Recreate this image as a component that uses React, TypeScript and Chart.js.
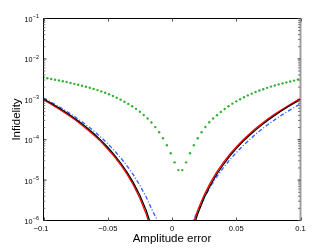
import { useEffect, useRef } from "react";
import { Chart, registerables } from "chart.js";

Chart.register(...registerables);

// x grid for the solid / dash-dot curves
const lineX = [
  -0.1, -0.095, -0.09, -0.085, -0.08, -0.075, -0.07, -0.065, -0.06, -0.055, -0.05,
  -0.045, -0.04, -0.035, -0.03, -0.025, -0.02, -0.015, -0.01, -0.005, 0,
  0.005, 0.01, 0.015, 0.02, 0.025, 0.03, 0.035, 0.04, 0.045, 0.05,
  0.055, 0.06, 0.065, 0.07, 0.075, 0.08, 0.085, 0.09, 0.095, 0.1,
];

const blackVals = [
  1.02e-3, 8.32e-4, 6.71e-4, 5.34e-4, 4.2e-4, 3.25e-4, 2.47e-4, 1.84e-4, 1.34e-4, 9.49e-5, 6.5e-5,
  4.29e-5, 2.69e-5, 1.59e-5, 8.65e-6, 4.23e-6, 1.77e-6, 5.77e-7, 1.22e-7, 9.2e-9, 1e-11,
  4.1e-9, 8.1e-8, 4.42e-7, 1.45e-6, 3.6e-6, 7.57e-6, 1.42e-5, 2.43e-5, 3.92e-5, 6.0e-5,
  8.82e-5, 1.25e-4, 1.73e-4, 2.33e-4, 3.08e-4, 3.99e-4, 5.1e-4, 6.42e-4, 7.97e-4, 9.8e-4,
];

const redVals = [
  9.6e-4, 7.85e-4, 6.3e-4, 5.0e-4, 3.92e-4, 3.02e-4, 2.29e-4, 1.7e-4, 1.23e-4, 8.7e-5, 5.9e-5,
  3.86e-5, 2.4e-5, 1.4e-5, 7.5e-6, 3.56e-6, 1.43e-6, 4.4e-7, 8.1e-8, 4.1e-9, 1e-11,
  9.2e-9, 1.24e-7, 5.9e-7, 1.8e-6, 4.3e-6, 8.8e-6, 1.62e-5, 2.74e-5, 4.37e-5, 6.62e-5,
  9.67e-5, 1.37e-4, 1.88e-4, 2.52e-4, 3.32e-4, 4.29e-4, 5.45e-4, 6.85e-4, 8.5e-4, 1.04e-3,
];

const blueVals = [
  1.08e-3, 8.86e-4, 7.2e-4, 5.79e-4, 4.59e-4, 3.6e-4, 2.77e-4, 2.1e-4, 1.56e-4, 1.13e-4, 7.96e-5,
  5.45e-5, 3.58e-5, 2.25e-5, 1.34e-5, 7.41e-6, 3.76e-6, 1.68e-6, 8.5e-7, 2.0e-7, 1e-8,
  1.5e-8, 1.7e-7, 8.0e-7, 1.7e-6, 3.6e-6, 6.95e-6, 1.23e-5, 2.03e-5, 3.2e-5, 4.8e-5,
  6.95e-5, 9.83e-5, 1.36e-4, 1.83e-4, 2.41e-4, 3.13e-4, 4.0e-4, 5.03e-4, 6.26e-4, 7.71e-4,
];

// x grid of the dotted (marker) curve
const greenX = [
  -0.1, -0.097, -0.094, -0.091, -0.088, -0.085, -0.082, -0.079, -0.076, -0.073,
  -0.07, -0.067, -0.064, -0.061, -0.058, -0.055, -0.052, -0.049, -0.046, -0.043,
  -0.04, -0.037, -0.034, -0.031, -0.028, -0.025, -0.022, -0.019, -0.016, -0.013,
  -0.01, -0.007, -0.004, -0.001, 0.002, 0.005, 0.008, 0.011, 0.014, 0.017,
  0.02, 0.023, 0.026, 0.029, 0.032, 0.035, 0.038, 0.041, 0.044, 0.047,
  0.05, 0.053, 0.056, 0.059, 0.062, 0.065, 0.068, 0.071, 0.074, 0.077,
  0.08, 0.083, 0.086, 0.089, 0.092, 0.095, 0.098,
];

const greenVals = [
  3.45e-3, 3.32e-3, 3.19e-3, 3.06e-3, 2.93e-3, 2.8e-3, 2.67e-3, 2.54e-3, 2.41e-3, 2.29e-3,
  2.17e-3, 2.05e-3, 1.93e-3, 1.81e-3, 1.69e-3, 1.57e-3, 1.45e-3, 1.33e-3, 1.21e-3, 1.09e-3,
  9.8e-4, 8.7e-4, 7.7e-4, 6.75e-4, 5.8e-4, 4.9e-4, 4.1e-4, 3.36e-4, 2.67e-4, 2.05e-4,
  1.53e-4, 1.09e-4, 7.3e-5, 4.6e-5, 2.75e-5, 1.77e-5, 1.77e-5, 2.75e-5, 4.6e-5, 7.3e-5,
  1.09e-4, 1.53e-4, 2.07e-4, 2.7e-4, 3.35e-4, 4.05e-4, 4.85e-4, 5.75e-4, 6.75e-4, 7.8e-4,
  8.9e-4, 1.0e-3, 1.12e-3, 1.25e-3, 1.38e-3, 1.51e-3, 1.65e-3, 1.78e-3, 1.92e-3, 2.06e-3,
  2.2e-3, 2.34e-3, 2.48e-3, 2.62e-3, 2.76e-3, 2.9e-3, 3.1e-3,
];

const xTickValues = [-0.1, -0.05, 0, 0.05, 0.1];
const xTickLabels = ["\u22120.1", "\u22120.05", "0", "0.05", "0.1"];
const yExponents = [-6, -5, -4, -3, -2, -1];
const yMinorMultipliers = [2, 3, 4, 5, 6, 7, 8, 9];
const xTitle = "Amplitude error";
const yTitle = "Infidelity";

const FONT = '"Liberation Sans", Arial, Helvetica, sans-serif';

const zip = (xs: number[], ys: number[]) => xs.map((x, i) => ({ x, y: ys[i] }));

const framePlugin = {
  id: "matlabFrame",
  afterDraw(chart: any) {
    const ctx: CanvasRenderingContext2D = chart.ctx;
    const xs = chart.scales.x;
    const ys = chart.scales.y;
    const { left, right, top, bottom } = chart.chartArea;
    ctx.save();

    const seg = (x1: number, y1: number, x2: number, y2: number) => {
      ctx.beginPath();
      ctx.moveTo(x1, y1);
      ctx.lineTo(x2, y2);
      ctx.stroke();
    };

    // right border (grey, wide)
    ctx.strokeStyle = "#a0a0a0";
    ctx.lineWidth = 2;
    seg(right, top, right, bottom);

    // box
    ctx.strokeStyle = "#000";
    ctx.lineWidth = 1;
    seg(left, top, right, top);
    seg(left, bottom, right, bottom);
    seg(left, top, left, bottom);

    // x ticks (inward, bottom and top)
    ctx.strokeStyle = "#555";
    xTickValues.forEach((v) => {
      const px = Math.round(xs.getPixelForValue(v)) + 0.5;
      seg(px, bottom, px, bottom - 3);
      seg(px, top, px, top + 3);
    });

    // y ticks
    yExponents.forEach((e) => {
      const py = ys.getPixelForValue(Math.pow(10, e));
      ctx.strokeStyle = "#333";
      seg(left, py, left + 3, py);
      seg(right, py, right - 3, py);
      if (e < -1) {
        yMinorMultipliers.forEach((m) => {
          const pm = ys.getPixelForValue(m * Math.pow(10, e));
          ctx.strokeStyle = "#777";
          seg(left, pm, left + 1.8, pm);
          seg(right, pm, right - 2.5, pm);
        });
      }
    });

    // x tick labels
    ctx.fillStyle = "#000";
    ctx.font = `7.6px ${FONT}`;
    ctx.textAlign = "center";
    ctx.textBaseline = "alphabetic";
    xTickValues.forEach((v, i) => {
      const px = xs.getPixelForValue(v);
      const dx = i === 0 ? -2.5 : 0;
      ctx.fillText(xTickLabels[i], px + dx, 231.3);
    });

    // y tick labels 10^e
    yExponents.forEach((e) => {
      const py = ys.getPixelForValue(Math.pow(10, e));
      ctx.font = `7.2px ${FONT}`;
      ctx.textAlign = "right";
      ctx.fillText("10", 32.4, py + 3.4);
      ctx.font = `5.4px ${FONT}`;
      ctx.textAlign = "left";
      ctx.fillText("\u2212" + String(-e), 32.8, py - 0.3);
    });

    // axis titles
    ctx.font = `11.5px ${FONT}`;
    ctx.textAlign = "center";
    ctx.fillText(xTitle, (left + right) / 2, 241.5);
    ctx.save();
    ctx.translate(20.2, (top + bottom) / 2);
    ctx.rotate(-Math.PI / 2);
    ctx.fillText(yTitle, 0, 0);
    ctx.restore();

    ctx.restore();
  },
};

export default function App() {
  const ref = useRef<HTMLCanvasElement | null>(null);

  useEffect(() => {
    if (!ref.current) return;
    const chart = new Chart(ref.current, {
      type: "scatter",
      data: {
        datasets: [
          {
            label: "black",
            data: zip(lineX, blackVals),
            showLine: true,
            borderColor: "#000000",
            borderWidth: 1.2,
            pointRadius: 0,
          },
          {
            label: "red",
            data: zip(lineX, redVals),
            showLine: true,
            borderColor: "#ff0000",
            borderWidth: 1.3,
            pointRadius: 0,
          },
          {
            label: "blue",
            data: zip(lineX, blueVals),
            showLine: true,
            borderColor: "#2f5cff",
            borderWidth: 1.3,
            borderDash: [4, 2, 1, 2],
            pointRadius: 0,
          },
          {
            label: "green",
            data: zip(greenX, greenVals),
            showLine: false,
            pointRadius: 1.2,
            pointBackgroundColor: "#35b035",
            pointBorderWidth: 0,
            pointStyle: "circle",
          },
        ],
      } as any,
      options: {
        animation: false,
        responsive: false,
        devicePixelRatio: 1,
        layout: { padding: { left: 43.5, right: 31.5, top: 18.5, bottom: 28.5 } },
        plugins: { legend: { display: false }, tooltip: { enabled: false } },
        events: [],
        scales: {
          x: { type: "linear", min: -0.1, max: 0.1, display: false },
          y: { type: "logarithmic", min: 1e-6, max: 1e-1, display: false },
        },
      } as any,
      plugins: [framePlugin],
    });
    return () => chart.destroy();
  }, []);

  return (
    <div style={{ position: "absolute", left: 0, top: 0, width: 332, height: 249, background: "#fff" }}>
      <canvas ref={ref} width={332} height={249} style={{ display: "block", width: 332, height: 249 }} />
    </div>
  );
}
